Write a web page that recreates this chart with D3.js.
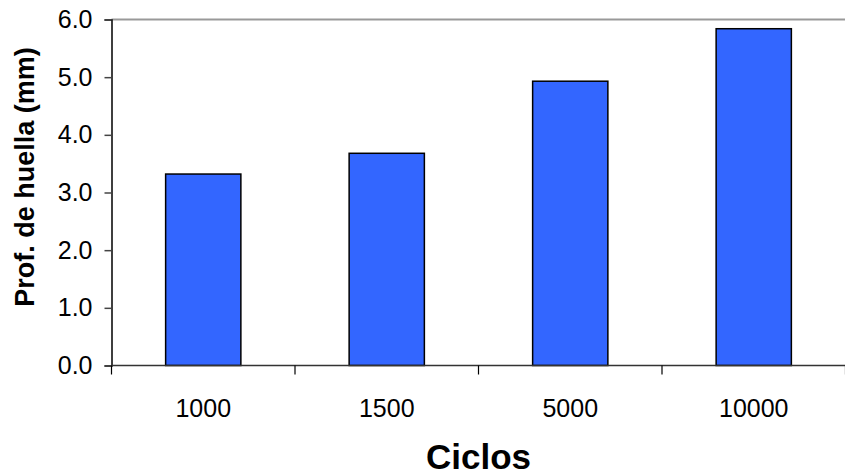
<!DOCTYPE html>
<html lang="es">
<head>
    <meta charset="UTF-8">
    <title>Prof. de huella vs Ciclos</title>
    <script src="https://d3js.org/d3.v7.min.js"></script>
    <style>
        body {
            margin: 0;
            padding: 0;
            background: #fff;
            font-family: Arial, "Liberation Sans", sans-serif;
        }
        svg { display: block; }
        .bar {
            fill: #3366ff;
            stroke: #000;
            stroke-width: 1.5px;
        }
    </style>
</head>
<body>
    <svg width="845" height="476"></svg>

    <script>
        // Data
        const ciclos = ["1000", "1500", "5000", "10000"];
        const profundidad = [3.32, 3.68, 4.93, 5.84];
        const yTicks = [0, 1, 2, 3, 4, 5, 6];

        const data = ciclos.map((c, i) => ({ ciclo: c, value: profundidad[i] }));

        const plot = { left: 111.5, right: 845.5, top: 19.5, bottom: 365.5 };

        const svg = d3.select("svg");

        const x = d3.scaleBand()
            .domain(ciclos)
            .range([plot.left, plot.right])
            .paddingInner(0.59)
            .paddingOuter(0.295);

        const y = d3.scaleLinear()
            .domain([0, 6])
            .range([plot.bottom, plot.top]);

        // top border of plot area
        svg.append("line")
            .attr("x1", plot.left).attr("x2", plot.right)
            .attr("y1", y(6)).attr("y2", y(6))
            .attr("stroke", "#999").attr("stroke-width", 2);

        // Bars
        svg.selectAll(".bar")
            .data(data)
            .enter().append("rect")
            .attr("class", "bar")
            .attr("x", d => x(d.ciclo))
            .attr("y", d => y(d.value))
            .attr("width", x.bandwidth())
            .attr("height", d => y(0) - y(d.value));

        // Y axis
        const yAxis = svg.append("g")
            .attr("transform", `translate(${plot.left},0)`)
            .call(d3.axisLeft(y).tickValues(yTicks).tickFormat(d3.format(".1f")).tickSizeOuter(0).tickSize(7).tickPadding(12));
        yAxis.select(".domain").attr("stroke", "#000").attr("stroke-width", 1.5);
        yAxis.selectAll(".tick line").attr("stroke", "#444").attr("stroke-width", 1.5);
        yAxis.selectAll("text")
            .attr("fill", "#000")
            .style("font-size", "25px")
            .style("font-family", "Arial, 'Liberation Sans', sans-serif");

        // X axis baseline
        svg.append("line")
            .attr("x1", plot.left).attr("x2", plot.right)
            .attr("y1", y(0)).attr("y2", y(0))
            .attr("stroke", "#333").attr("stroke-width", 1.5);

        // category boundary ticks
        const gap = (x.step() - x.bandwidth()) / 2;
        const bounds = ciclos.map(c => x(c) - gap).concat([x(ciclos[ciclos.length - 1]) + x.bandwidth() + gap]);
        svg.selectAll(".xtick")
            .data(bounds)
            .enter().append("line")
            .attr("class", "xtick")
            .attr("x1", d => d).attr("x2", d => d)
            .attr("y1", y(0)).attr("y2", y(0) + 9)
            .attr("stroke", "#000").attr("stroke-width", 1.2);

        // X tick labels
        svg.selectAll(".xlabel")
            .data(ciclos)
            .enter().append("text")
            .attr("class", "xlabel")
            .attr("x", d => x(d) + x.bandwidth() / 2)
            .attr("y", 417)
            .attr("text-anchor", "middle")
            .style("font-size", "25px")
            .text(d => d);

        // Axis titles
        svg.append("text")
            .attr("x", (plot.left + plot.right) / 2)
            .attr("y", 469)
            .attr("text-anchor", "middle")
            .style("font-size", "35px")
            .style("font-weight", "bold")
            .text("Ciclos");

        svg.append("text")
            .attr("transform", "rotate(-90)")
            .attr("x", -177)
            .attr("y", 34)
            .attr("text-anchor", "middle")
            .style("font-size", "27px")
            .style("font-weight", "bold")
            .text("Prof. de huella (mm)");
    </script>
</body>
</html>
